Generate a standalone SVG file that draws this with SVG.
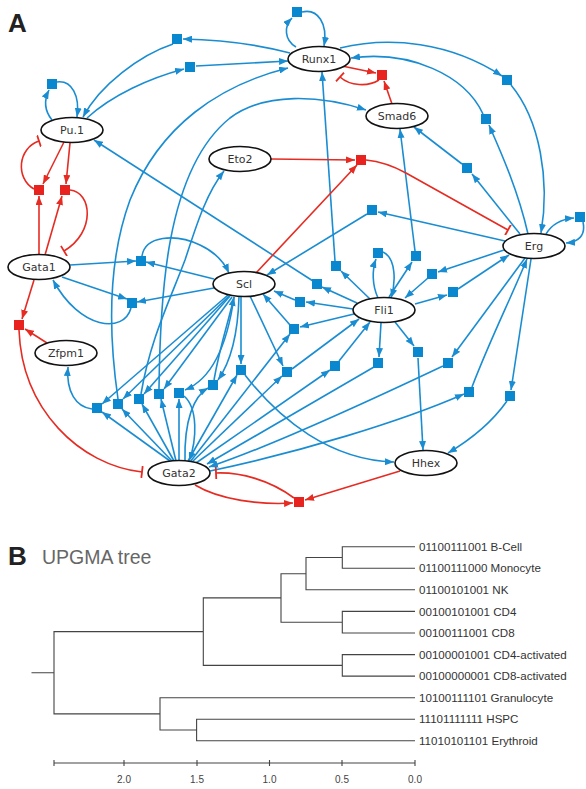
<svg xmlns="http://www.w3.org/2000/svg" width="586" height="789" viewBox="0 0 586 789">
<defs>
<style>
.e{fill:none;stroke:#1a8dd2;stroke-width:1.6;marker-end:url(#ab)}
.r{fill:none;stroke:#e62b22;stroke-width:1.6;marker-end:url(#ar)}
.i{fill:none;stroke:#e62b22;stroke-width:1.6;marker-end:url(#tb)}
.sq{fill:#0a88cf}
.rs{fill:#e8231f}
.n ellipse{fill:#fff;stroke:#111;stroke-width:1.6}
.n text{font-family:"DejaVu Sans",sans-serif;font-size:11px;fill:#333;text-anchor:middle}
.tr{fill:none;stroke:#444;stroke-width:1.1}
.lb{font-family:"Liberation Sans",Arial,sans-serif;font-size:11.6px;fill:#333}
.tk{font-family:"Liberation Sans",Arial,sans-serif;font-size:10px;fill:#444;text-anchor:middle}
</style>
<marker id="ab" viewBox="0 0 9 7" refX="9" refY="3.5" markerWidth="9" markerHeight="7" markerUnits="userSpaceOnUse" orient="auto"><path d="M0,0 L9,3.5 L0,7 z" fill="#1a8dd2"/></marker>
<marker id="ar" viewBox="0 0 9 7" refX="9" refY="3.5" markerWidth="9" markerHeight="7" markerUnits="userSpaceOnUse" orient="auto"><path d="M0,0 L9,3.5 L0,7 z" fill="#e62b22"/></marker>
<marker id="tb" viewBox="0 0 4 12" refX="2" refY="6" markerWidth="4" markerHeight="12" markerUnits="userSpaceOnUse" orient="auto"><path d="M2,0 L2,12" stroke="#e62b22" stroke-width="1.8"/></marker>
</defs>
<rect width="586" height="789" fill="#fff"/>
<text x="8" y="32" font-family="Liberation Sans,Arial,sans-serif" font-size="26" font-weight="bold" fill="#222">A</text>

<g id="connectors">
<path class="e" d="M296,47 C284,40 284,26 292,18"/>
<path class="e" d="M302,12 C318,8 328,24 324,46"/>
<path class="e" d="M290,53 Q240,40 183,39"/>
<path class="e" d="M173,44 C140,55 100,85 83,117"/>
<path class="e" d="M87,118 C112,95 150,78 184,69"/>
<path class="e" d="M196,66 L288,61"/>
<path class="e" d="M52,120 C44,110 44,100 49,90"/>
<path class="e" d="M57,82 C72,80 80,96 77,117"/>
<path class="e" d="M340,48 C390,36 450,42 502,76"/>
<path class="e" d="M511,85 C540,120 550,180 541,233"/>
<path class="e" d="M528,234 C518,190 500,150 489,125"/>
<path class="e" d="M483,114 C465,75 410,50 351,58"/>
<path class="e" d="M520,234 L472,174"/>
<path class="e" d="M462,164 L414,127"/>
<path class="e" d="M389,297 L412,262"/>
<path class="e" d="M415,251 L400,129"/>
<path class="e" d="M159,389 C160,300 165,170 230,118 C265,92 320,95 366,110"/>
<path class="e" d="M141,394 C150,340 170,300 185,260 C195,230 205,195 224,171"/>
<path class="e" d="M118,399 C108,330 108,260 130,200 C160,125 220,85 288,68"/>
<path class="e" d="M70,265 L136,261"/>
<path class="e" d="M214,279 L146,262"/>
<path class="e" d="M142,256 C145,236 175,233 200,245 C215,252 224,262 229,273"/>
<path class="e" d="M62,277 L127,299"/>
<path class="e" d="M214,288 L137,302"/>
<path class="e" d="M131,308 C124,334 80,330 53,280"/>
<path class="e" d="M92,409 C76,407 66,392 68,367"/>
<path class="e" d="M228,295 L102,404"/>
<path class="e" d="M229,296 L123,399"/>
<path class="e" d="M230,296 L144,394"/>
<path class="e" d="M232,297 L164,389"/>
<path class="e" d="M234,297 C228,340 214,378 185,390"/>
<path class="e" d="M239,297 C238,330 232,360 218,380"/>
<path class="e" d="M241,297 L241,364"/>
<path class="e" d="M250,296 L283,366"/>
<path class="e" d="M184,396 C198,408 197,440 189,461"/>
<path class="e" d="M214,380 C220,345 229,320 234,297"/>
<path class="e" d="M185,461 C184,420 194,396 208,388"/>
<path class="e" d="M170,461 L102,412"/>
<path class="e" d="M172,461 L122,409"/>
<path class="e" d="M174,461 L142,404"/>
<path class="e" d="M176,461 L161,399"/>
<path class="e" d="M179,460 L179,399"/>
<path class="e" d="M188,461 L237,375"/>
<path class="e" d="M192,462 L282,376"/>
<path class="e" d="M190,462 L290,334"/>
<path class="e" d="M196,463 L330,370"/>
<path class="e" d="M374,367 L207,464"/>
<path class="e" d="M443,366 C350,410 260,450 209,467"/>
<path class="e" d="M210,471 C300,452 400,422 464,394"/>
<path class="e" d="M245,375 C280,420 330,460 394,462"/>
<path class="e" d="M292,369 L359,319"/>
<path class="e" d="M339,361 L370,322"/>
<path class="e" d="M381,323 L379,357"/>
<path class="e" d="M395,322 L414,346"/>
<path class="e" d="M418,358 L423,450"/>
<path class="e" d="M525,258 L452,357"/>
<path class="e" d="M531,259 L511,390"/>
<path class="e" d="M507,401 C490,425 470,440 448,453"/>
<path class="e" d="M472,387 C490,340 510,300 527,259"/>
<path class="e" d="M415,304 L447,295"/>
<path class="e" d="M458,289 L509,255"/>
<path class="e" d="M504,250 L438,272"/>
<path class="e" d="M428,278 L405,298"/>
<path class="e" d="M353,309 L306,302"/>
<path class="e" d="M295,300 L274,291"/>
<path class="e" d="M354,314 L300,327"/>
<path class="e" d="M290,325 L263,294"/>
<path class="e" d="M357,303 L322,287"/>
<path class="e" d="M313,281 L94,140"/>
<path class="e" d="M370,299 L341,271"/>
<path class="e" d="M335,261 L322,72"/>
<path class="e" d="M378,298 C372,285 372,270 376,259"/>
<path class="e" d="M383,252 C396,258 396,282 391,298"/>
<path class="e" d="M505,241 L378,212"/>
<path class="e" d="M367,214 L267,275"/>
<path class="e" d="M546,234 C552,224 562,219 574,218"/>
<path class="e" d="M583,222 C586,236 578,242 566,243"/>

<path class="r" d="M342,66 L376,73"/>
<path class="r" d="M392,104 L384,81"/>
<path class="r" d="M271,159 L355,160"/>
<path class="r" d="M256,273 L357,165"/>
<path class="r" d="M64,142 L43,184"/>
<path class="r" d="M39,254 L39,196"/>
<path class="r" d="M70,143 L66,184"/>
<path class="r" d="M45,255 L62,196"/>
<path class="r" d="M34,280 L22,319"/>
<path class="r" d="M47,343 L25,329"/>
<path class="r" d="M195,485 C220,500 260,505 293,503"/>
<path class="r" d="M400,471 L305,500"/>

<path class="i" d="M379,80 C368,87 350,86 340,77"/>
<path class="i" d="M366,160 Q386,162 406,173 L508,230"/>
<path class="i" d="M34,189 C15,178 18,148 39,141"/>
<path class="i" d="M70,190 C92,192 96,232 64,251"/>
<path class="i" d="M19,330 C22,410 80,465 142,472"/>
<path class="i" d="M294,498 C270,480 240,472 216,473"/>
</g>

<g id="gates">
<g id="s1"><rect class="sq" x="292" y="7" width="10" height="10"/></g>
<g id="s2"><rect class="sq" x="172" y="34" width="10" height="10"/></g>
<g id="s3"><rect class="sq" x="185" y="62" width="10" height="10"/></g>
<g id="s4"><rect class="sq" x="47" y="79" width="10" height="10"/></g>
<g id="s5"><rect class="sq" x="502" y="75" width="10" height="10"/></g>
<g id="s6"><rect class="sq" x="481" y="114" width="10" height="10"/></g>
<g id="s7"><rect class="sq" x="462" y="163" width="10" height="10"/></g>
<g id="s8"><rect class="sq" x="367" y="205" width="10" height="10"/></g>
<g id="s9"><rect class="sq" x="575" y="212" width="10" height="10"/></g>
<g id="s10"><rect class="sq" x="136" y="256" width="10" height="10"/></g>
<g id="s11"><rect class="sq" x="127" y="298" width="10" height="10"/></g>
<g id="s12"><rect class="sq" x="331" y="261" width="10" height="10"/></g>
<g id="s13"><rect class="sq" x="373" y="248" width="10" height="10"/></g>
<g id="s14"><rect class="sq" x="411" y="251" width="10" height="10"/></g>
<g id="s15"><rect class="sq" x="312" y="279" width="10" height="10"/></g>
<g id="s16"><rect class="sq" x="295" y="297" width="10" height="10"/></g>
<g id="s17"><rect class="sq" x="427" y="269" width="10" height="10"/></g>
<g id="s18"><rect class="sq" x="448" y="287" width="10" height="10"/></g>
<g id="s19"><rect class="sq" x="289" y="324" width="10" height="10"/></g>
<g id="sa"><rect class="sq" x="92" y="403" width="10" height="10"/></g>
<g id="sb"><rect class="sq" x="113" y="399" width="10" height="10"/></g>
<g id="sc"><rect class="sq" x="134" y="394" width="10" height="10"/></g>
<g id="sd"><rect class="sq" x="154" y="389" width="10" height="10"/></g>
<g id="se"><rect class="sq" x="174" y="388" width="10" height="10"/></g>
<g id="sf"><rect class="sq" x="208" y="380" width="10" height="10"/></g>
<g id="sg"><rect class="sq" x="236" y="365" width="10" height="10"/></g>
<g id="sh"><rect class="sq" x="282" y="367" width="10" height="10"/></g>
<g id="s20"><rect class="sq" x="330" y="361" width="10" height="10"/></g>
<g id="s21"><rect class="sq" x="373" y="358" width="10" height="10"/></g>
<g id="s22"><rect class="sq" x="413" y="347" width="10" height="10"/></g>
<g id="s23"><rect class="sq" x="443" y="358" width="10" height="10"/></g>
<g id="s24"><rect class="sq" x="464" y="387" width="10" height="10"/></g>
<g id="s25"><rect class="sq" x="505" y="391" width="10" height="10"/></g>
<g id="r1"><rect class="rs" x="34" y="185" width="10" height="10"/></g>
<g id="r2"><rect class="rs" x="60" y="185" width="10" height="10"/></g>
<g id="r3"><rect class="rs" x="377" y="70" width="10" height="10"/></g>
<g id="r4"><rect class="rs" x="356" y="155" width="10" height="10"/></g>
<g id="r5"><rect class="rs" x="14" y="320" width="10" height="10"/></g>
<g id="r6"><rect class="rs" x="294" y="497" width="10" height="10"/></g>
</g>

<g id="Runx1" class="n"><ellipse cx="319" cy="59" rx="31" ry="12.5"/><text x="319" y="63">Runx1</text></g>
<g id="Pu1" class="n"><ellipse cx="72" cy="130" rx="31" ry="12.5"/><text x="72" y="134">Pu.1</text></g>
<g id="Eto2" class="n"><ellipse cx="240" cy="159" rx="31" ry="12.5"/><text x="240" y="163">Eto2</text></g>
<g id="Smad6" class="n"><ellipse cx="397" cy="116" rx="31" ry="12.5"/><text x="397" y="120">Smad6</text></g>
<g id="Gata1" class="n"><ellipse cx="39" cy="267" rx="31" ry="12.5"/><text x="39" y="271">Gata1</text></g>
<g id="Scl" class="n"><ellipse cx="244" cy="284" rx="31" ry="12.5"/><text x="244" y="288">Scl</text></g>
<g id="Zfpm1" class="n"><ellipse cx="66" cy="353" rx="31" ry="12.5"/><text x="66" y="357">Zfpm1</text></g>
<g id="Gata2" class="n"><ellipse cx="179" cy="473" rx="31" ry="12.5"/><text x="179" y="477">Gata2</text></g>
<g id="Fli1" class="n"><ellipse cx="384" cy="310" rx="31" ry="12.5"/><text x="384" y="314">Fli1</text></g>
<g id="Erg" class="n"><ellipse cx="534" cy="246" rx="31" ry="12.5"/><text x="534" y="250">Erg</text></g>
<g id="Hhex" class="n"><ellipse cx="426" cy="463" rx="31" ry="12.5"/><text x="426" y="467">Hhex</text></g>

<g id="tree">
<text x="8" y="565" font-family="Liberation Sans,Arial,sans-serif" font-size="26" font-weight="bold" fill="#222">B</text>
<text x="42" y="564" font-family="Liberation Sans,Arial,sans-serif" font-size="19.5" fill="#666">UPGMA tree</text>
<path class="tr" d="M415,546.7 H342.3 V568.3 H415 M342.3,557.5 H306 V589.8 H415 M415,611.4 H342.3 V633 H415 M306,573.7 H281 V622.2 H342.3 M415,654.6 H342.3 V676.1 H415 M281,597.9 H203.3 V665.4 H342.3 M415,719.3 H196.6 V740.8 H415 M415,697.7 H160 V730 H196.6 M203.3,631.6 H54 V713.9 H160 M31.5,672.7 H54"/>
<text class="lb" x="419" y="550.8">01100111001 B-Cell</text>
<text class="lb" x="419" y="572.4">01100111000 Monocyte</text>
<text class="lb" x="419" y="593.9">01100101001 NK</text>
<text class="lb" x="419" y="615.5">00100101001 CD4</text>
<text class="lb" x="419" y="637.1">00100111001 CD8</text>
<text class="lb" x="419" y="658.7">00100001001 CD4-activated</text>
<text class="lb" x="419" y="680.2">00100000001 CD8-activated</text>
<text class="lb" x="419" y="701.8">10100111101 Granulocyte</text>
<text class="lb" x="419" y="723.4">11101111111 HSPC</text>
<text class="lb" x="419" y="744.9">11010101101 Erythroid</text>
<path class="tr" d="M54,763 H415 M54,760 V766 M124,760 V766 M197,760 V766 M269.5,760 V766 M342,760 V766 M415,760 V766"/>
<text class="tk" x="124" y="783">2.0</text>
<text class="tk" x="197" y="783">1.5</text>
<text class="tk" x="269.5" y="783">1.0</text>
<text class="tk" x="342" y="783">0.5</text>
<text class="tk" x="415" y="783">0.0</text>
</g>
</svg>
